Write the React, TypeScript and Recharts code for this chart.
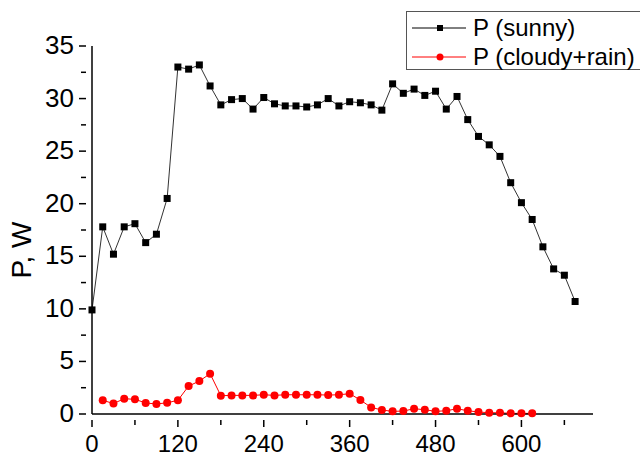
import { Legend, Line, LineChart, XAxis, YAxis } from "recharts";

const times = [
  0, 15, 30, 45, 60, 75, 90, 105, 120, 135, 150, 165, 180, 195, 210, 225, 240, 255, 270, 285, 300, 315, 330,
  345, 360, 375, 390, 405, 420, 435, 450, 465, 480, 495, 510, 525, 540, 555, 570, 585, 600, 615, 630, 645, 660,
  675,
];

const sunny = [
  9.9, 17.8, 15.2, 17.8, 18.1, 16.3, 17.1, 20.5, 33.0, 32.8, 33.2, 31.2, 29.4, 29.9, 30.0, 29.0, 30.1, 29.5,
  29.3, 29.3, 29.2, 29.4, 30.0, 29.3, 29.7, 29.6, 29.4, 28.9, 31.4, 30.5, 30.9, 30.3, 30.7, 29.0, 30.2, 28.0,
  26.4, 25.6, 24.5, 22.0, 20.1, 18.5, 15.9, 13.8, 13.2, 10.7,
];

// cloudy series starts at t=15 and stops at t=615
const cloudy = [
  null, 1.3, 1.0, 1.45, 1.4, 1.05, 0.95, 1.07, 1.3, 2.66, 3.13, 3.83, 1.74, 1.77, 1.77, 1.77, 1.83, 1.77, 1.83,
  1.83, 1.83, 1.83, 1.8, 1.83, 1.93, 1.33, 0.63, 0.38, 0.25, 0.28, 0.5, 0.41, 0.25, 0.31, 0.5, 0.31, 0.19, 0.12,
  0.12, 0.06, 0.06, 0.06, null, null, null, null,
];

const xTicks = [0, 60, 120, 180, 240, 300, 360, 420, 480, 540, 600, 660];
const yTicks = [0, 2.5, 5, 7.5, 10, 12.5, 15, 17.5, 20, 22.5, 25, 27.5, 30, 32.5, 35];

const data = times.map((t, i) => ({ t, sunny: sunny[i], cloudy: cloudy[i] }));

const FONT = '"Liberation Sans", Arial, sans-serif';

const XTick = (props: any) => {
  const { x, y, payload } = props;
  const major = payload.value % 120 === 0;
  return (
    <g>
      <line x1={x} y1={y} x2={x} y2={y + (major ? 7 : 5)} stroke="#000" strokeWidth={1.5} />
      {major && (
        <text x={x} y={y + 32} textAnchor="middle" fontSize={24} fontFamily={FONT} fill="#000">
          {payload.value}
        </text>
      )}
    </g>
  );
};

const YTick = (props: any) => {
  const { x, y, payload } = props;
  const major = payload.value % 5 === 0;
  return (
    <g>
      <line x1={x} y1={y} x2={x - (major ? 7 : 5)} y2={y} stroke="#000" strokeWidth={1.5} />
      {major && (
        <text x={x - 12} y={y + 8} textAnchor="end" fontSize={26} fontFamily={FONT} fill="#000">
          {payload.value}
        </text>
      )}
    </g>
  );
};

const SquareDot = (props: any) => {
  const { cx, cy, index } = props;
  if (cx == null || cy == null) return <g key={index} />;
  return <rect key={index} x={cx - 3.5} y={cy - 3.5} width={7} height={7} fill="#000" />;
};

const CircleDot = (props: any) => {
  const { cx, cy, index, value } = props;
  if (cx == null || cy == null || value == null) return <g key={index} />;
  return <circle key={index} cx={cx} cy={cy} r={4} fill="#ff0000" />;
};

const LegendBox = () => (
  <div
    style={{
      border: "1px solid #555",
      background: "#fff",
      width: 240,
      height: 59,
      boxSizing: "border-box",
      fontFamily: FONT,
      fontSize: 24,
      color: "#000",
      paddingTop: 1,
    }}
  >
    {[
      { label: "P (sunny)", color: "#000", square: true },
      { label: "P (cloudy+rain)", color: "#ff0000", square: false },
    ].map((it) => (
      <div key={it.label} style={{ display: "flex", alignItems: "center", height: 29 }}>
        <svg width={66} height={14} style={{ flex: "none" }}>
          <line x1={5} y1={7} x2={59} y2={7} stroke={it.color} strokeWidth={1} />
          {it.square ? (
            <rect x={30} y={4} width={6} height={6} fill={it.color} />
          ) : (
            <circle cx={33} cy={7} r={3.5} fill={it.color} />
          )}
        </svg>
        <span style={{ whiteSpace: "nowrap", lineHeight: "29px" }}>{it.label}</span>
      </div>
    ))}
  </div>
);

const YLabel = () => (
  <text
    x={31}
    y={250}
    transform="rotate(-90 31 250)"
    textAnchor="middle"
    fontSize={28}
    fontFamily={FONT}
    fill="#000"
  >
    P, W
  </text>
);

export default function App() {
  return (
    <div style={{ width: 640, height: 454, background: "#fff", position: "relative" }}>
      <style>{`body{margin:0}`}</style>
      <LineChart width={640} height={454} data={data} margin={{ top: 46, right: 47, bottom: 10, left: 32 }}>
        <XAxis
          dataKey="t"
          type="number"
          domain={[0, 700]}
          ticks={xTicks}
          interval={0}
          tickLine={false}
          tickMargin={0}
          height={30}
          axisLine={{ stroke: "#000", strokeWidth: 1.5 }}
          tick={<XTick />}
        />
        <YAxis
          type="number"
          domain={[0, 35]}
          ticks={yTicks}
          interval={0}
          tickLine={false}
          tickMargin={0}
          width={60}
          axisLine={{ stroke: "#000", strokeWidth: 1.5 }}
          tick={<YTick />}
          label={<YLabel />}
        />
        <Legend
          layout="horizontal"
          verticalAlign="middle"
          align="center"
          wrapperStyle={{ top: 11, left: 406, width: 240, height: 59 }}
          content={<LegendBox />}
        />
        <Line
          dataKey="sunny"
          stroke="#333"
          strokeWidth={1}
          dot={<SquareDot />}
          activeDot={false}
          isAnimationActive={false}
        />
        <Line
          dataKey="cloudy"
          stroke="#ff0000"
          strokeWidth={1}
          dot={<CircleDot />}
          activeDot={false}
          isAnimationActive={false}
        />
      </LineChart>
    </div>
  );
}
